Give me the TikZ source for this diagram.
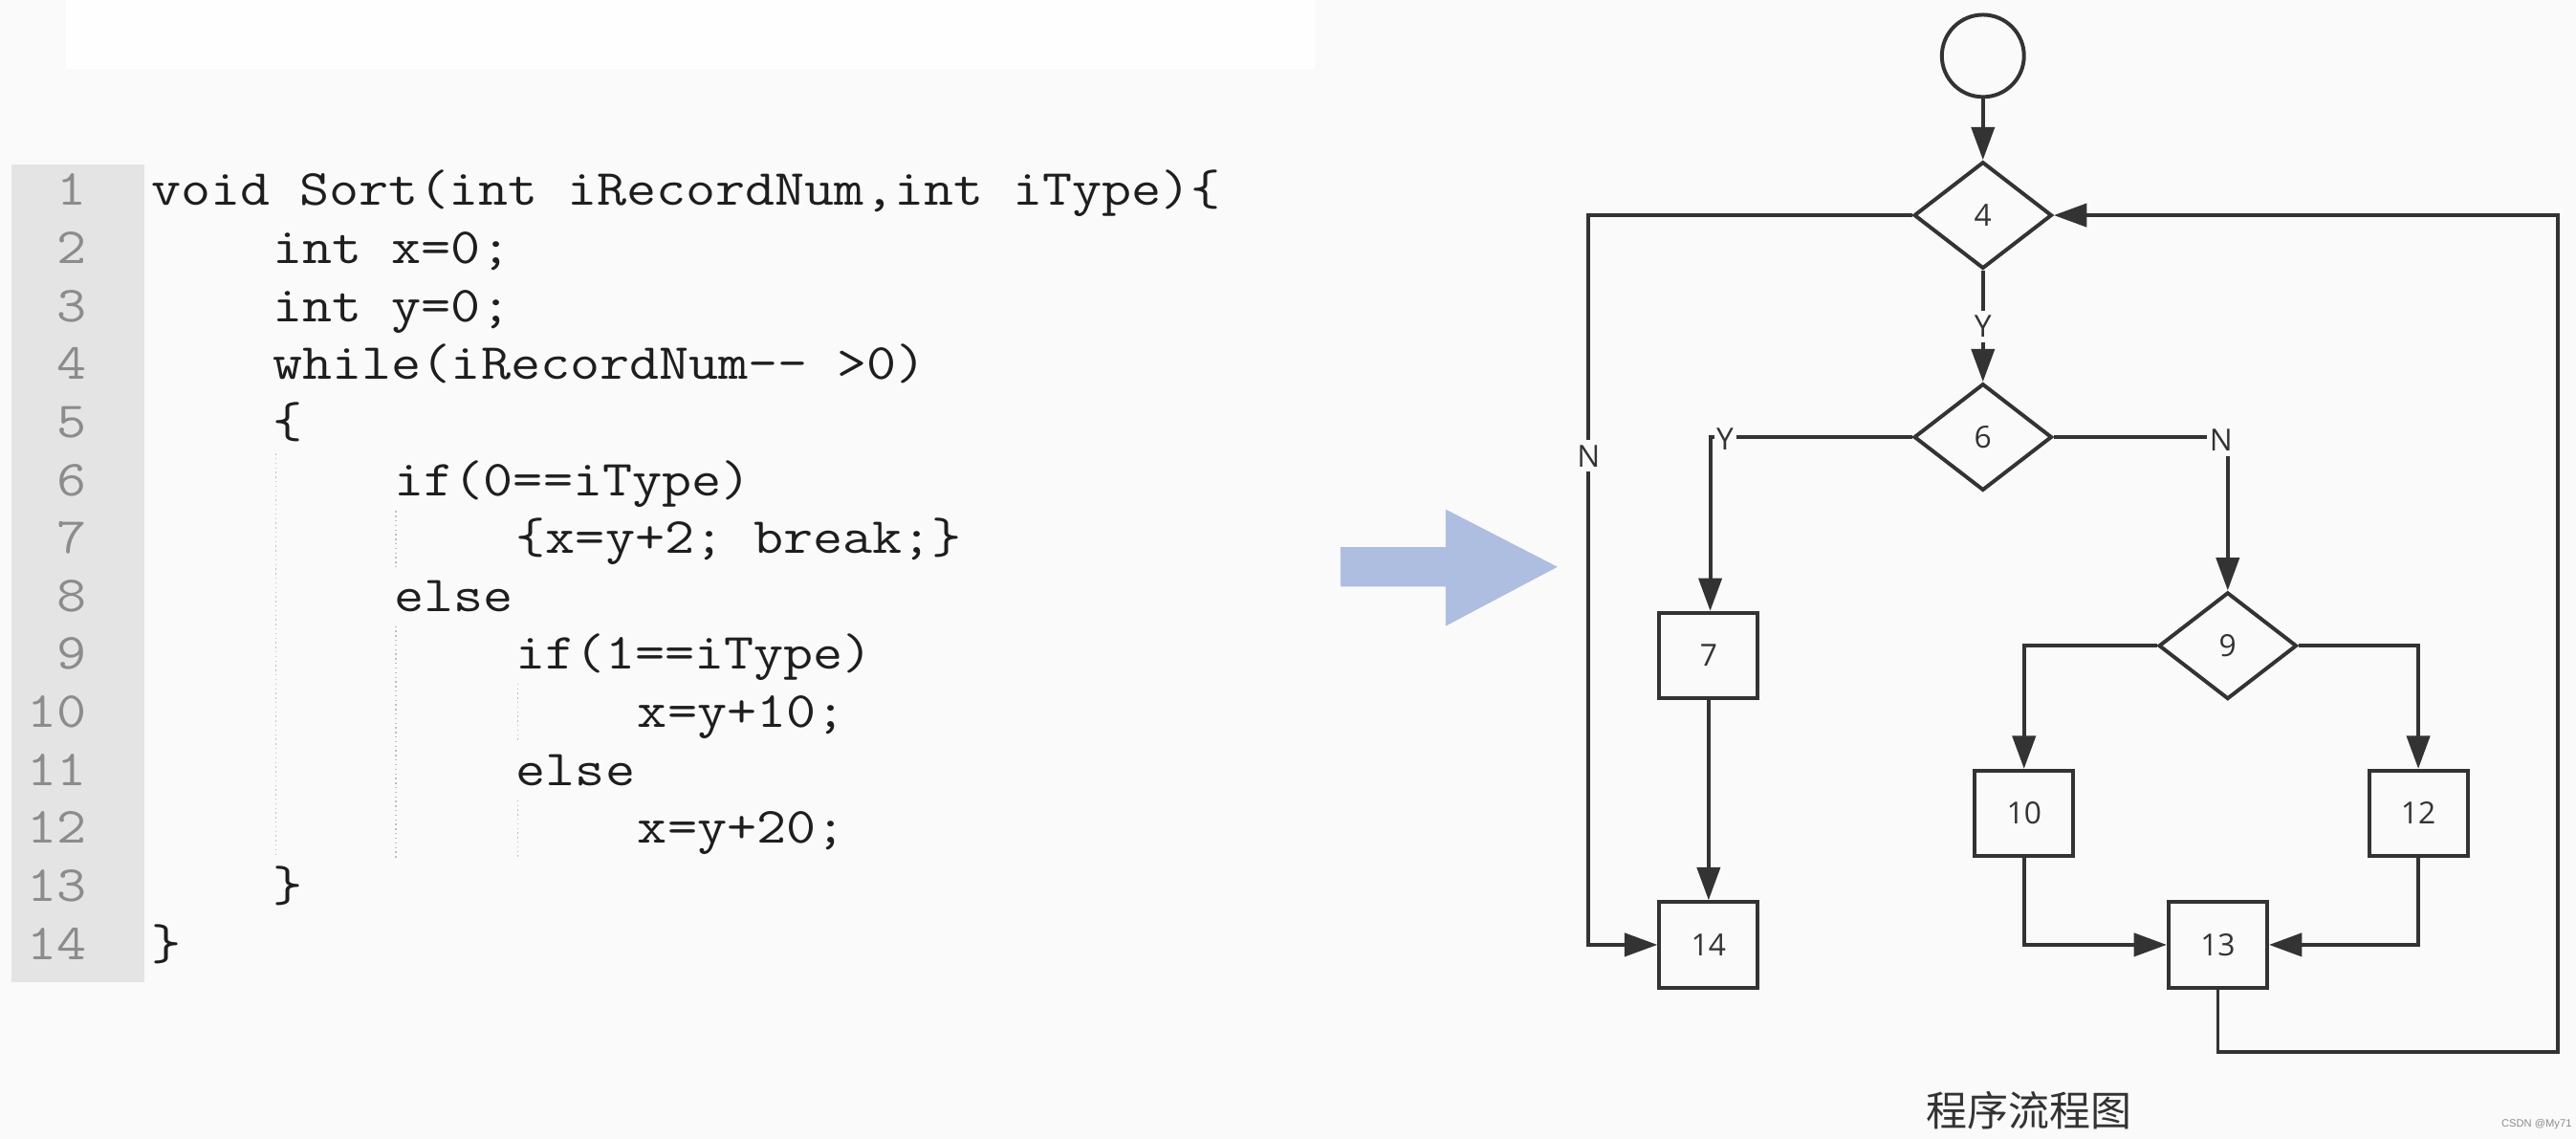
\documentclass[tikz,border=0pt]{standalone}
\usepackage{fontspec}
\usetikzlibrary{shapes.geometric,arrows.meta}
\newfontfamily\codefont[FakeStretch=1.14]{Latin Modern Mono}
\newfontfamily\flowfont{Open Sans}
\newfontfamily\cjkfont{Noto Sans CJK SC}
\newfontfamily\wmfont{Liberation Sans}
\definecolor{bg}{RGB}{250,250,250}
\definecolor{band}{RGB}{254,254,254}
\definecolor{gutter}{RGB}{228,228,228}
\definecolor{lnumc}{RGB}{140,140,140}
\definecolor{codec}{RGB}{30,30,30}
\definecolor{guidec}{RGB}{190,190,190}
\definecolor{flowc}{RGB}{51,51,51}
\definecolor{bigarrow}{RGB}{174,190,224}
\tikzset{
  codeline/.style={anchor=base west, inner sep=0pt, text=codec, font=\codefont\fontsize{30.8}{37}\selectfont},
  lnum/.style={anchor=base east, inner sep=0pt, text=lnumc, font=\codefont\fontsize{30.8}{37}\selectfont},
  guide/.style={draw=guidec, line width=0.8pt, dotted},
  flowline/.style={draw=flowc, line width=2.3pt},
  arr/.style={flowline, -{Triangle[length=20pt,width=14pt]}},
  dec/.style={diamond, draw=flowc, line width=2.3pt, fill=bg, inner sep=0pt, minimum width=84pt, minimum height=65pt, aspect=1.29, font=\flowfont\fontsize{18.5}{21}\selectfont, text=flowc},
  proc/.style={rectangle, draw=flowc, line width=2.3pt, fill=bg, inner sep=0pt, minimum width=60pt, minimum height=52pt, font=\flowfont\fontsize{18.5}{21}\selectfont, text=flowc},
  startc/.style={circle, draw=flowc, line width=2.3pt, minimum size=50pt, inner sep=0pt},
  lbl/.style={fill=bg, inner xsep=1.5pt, inner ysep=3pt, text=flowc, font=\flowfont\fontsize{18.5}{21}\selectfont}
}
\begin{document}
\begin{tikzpicture}[x=1pt,y=-1pt]
\useasboundingbox (0,0) rectangle (1568,693);
\fill[bg] (0,0) rectangle (1568,693);
\fill[band] (40,0) rectangle (800,42);

% gutter
\fill[gutter] (7,100) rectangle (88,598);

% line numbers
\foreach \i in {1,...,14}{
  \node[lnum] (n\i) at (53,{125+35.3*(\i-1)}) {\i};
}

% code
\node[codeline] (l1) at (92,125) {void Sort(int iRecordNum,int iType)\{};
\node[codeline] (l2) at (166,160.3) {int x=0;};
\node[codeline] (l3) at (166,195.6) {int y=0;};
\node[codeline] (l4) at (166,230.9) {while(iRecordNum-{}- >0)};
\node[codeline] (l5) at (166,266.2) {\{};
\node[codeline] (l6) at (240,301.5) {if(0==iType)};
\node[codeline] (l7) at (314,336.8) {\{x=y+2; break;\}};
\node[codeline] (l8) at (240,372.1) {else};
\node[codeline] (l9) at (314,407.4) {if(1==iType)};
\node[codeline] (l10) at (388,442.7) {x=y+10;};
\node[codeline] (l11) at (314,478.0) {else};
\node[codeline] (l12) at (388,513.3) {x=y+20;};
\node[codeline] (l13) at (166,548.6) {\}};
\node[codeline] (l14) at (92,583.9) {\}};

% indentation guides
\draw[guide] (168,276) -- (168,522);
\draw[guide] (241,311) -- (241,346);
\draw[guide] (241,381) -- (241,522);
\draw[guide] (315,416) -- (315,452);
\draw[guide] (315,487) -- (315,522);

% big arrow
\fill[bigarrow] (816,333) -- (880,333) -- (880,310) -- (948,345) -- (880,381) -- (880,357) -- (816,357) -- cycle;

% flowchart nodes
\node[startc] (s) at (1207,34) {};
\node[dec] (d4) at (1207,131) {4};
\node[dec] (d6) at (1207,266) {6};
\node[dec] (d9) at (1356,393) {9};
\node[proc] (b7) at (1040,399) {7};
\node[proc] (b14) at (1040,575) {14};
\node[proc] (b10) at (1232,495) {10};
\node[proc] (b12) at (1472,495) {12};
\node[proc] (b13) at (1350,575) {13};

\coordinate (nl) at (967,131);
\coordinate (y6) at (1041,266);
\coordinate (n6) at (1356,266);
\coordinate (lb) at (1350,640);
\coordinate (rb) at (1557,640);
\coordinate (rt) at (1557,131);

% connectors
\draw[arr] (s) -- (d4.north);
\draw[arr] (d4.south) -- node[lbl, pos=0.5] {Y} (d6.north);
\draw[arr] (d4.west) -- (nl) -- node[lbl, pos=0.33] {N} (nl |- b14.west) -- (b14.west);
\draw[arr] (d6.west) -- (y6) -- (y6 |- b7.north);
\node[lbl] (ly6) at (1050,267) {Y};
\draw[arr] (d6.east) -- (n6) -- (n6 |- d9.north);
\node[lbl] (ln6) at (1352,268) {N};
\draw[arr] (b7) -- (b14);
\draw[arr] (d9.west) -| (b10.north);
\draw[arr] (d9.east) -| (b12.north);
\draw[arr] (b10.south) |- (b13.west);
\draw[arr] (b12.south) |- (b13.east);
\draw[arr] (b13.south) -- (lb) -- (rb) -- (rt) -- (d4.east);

% caption
\node[inner sep=0pt, text=flowc, font=\cjkfont\fontsize{25}{28}\selectfont] (cap) at (1235,676) {程序流程图};
\node[inner sep=0pt, text=lnumc, font=\wmfont\fontsize{6.5}{7}\selectfont] (wm) at (1544,684) {CSDN @My71};
\end{tikzpicture}
\end{document}
